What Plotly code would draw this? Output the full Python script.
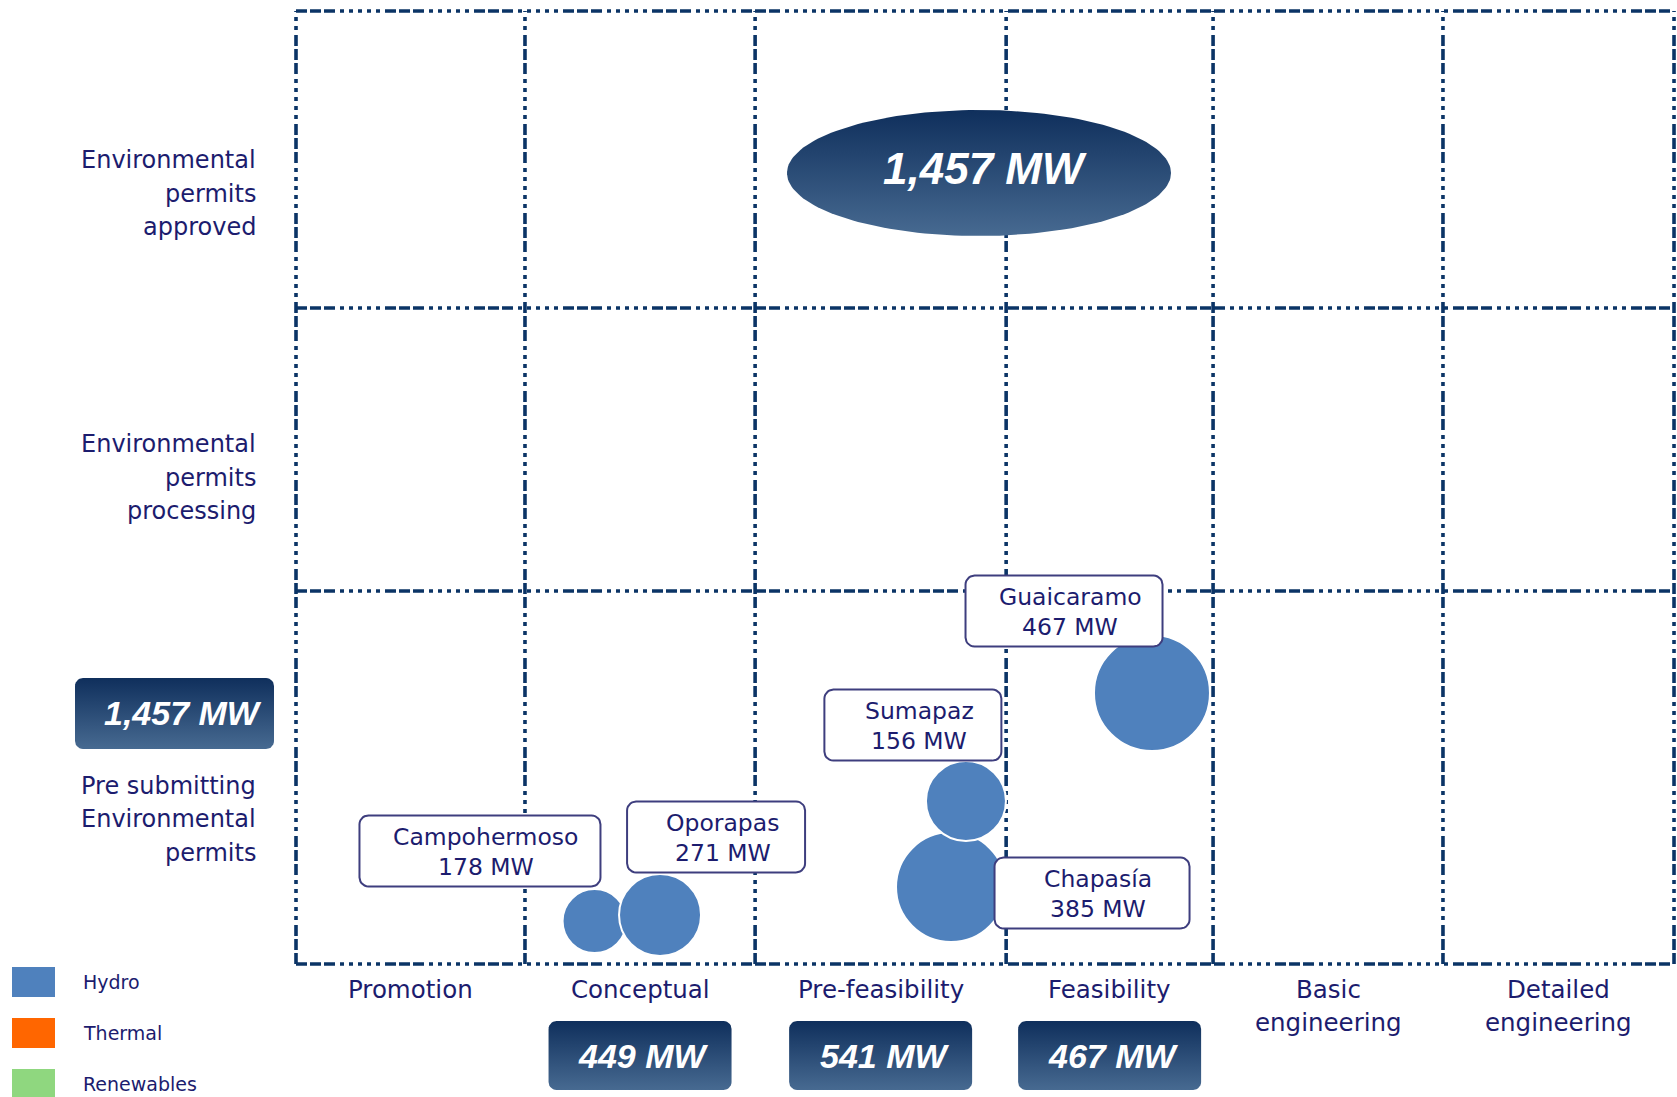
import numpy as np
import plotly.graph_objects as go

# ---------------- data ----------------
stages = ["Promotion", "Conceptual", "Pre-feasibility", "Feasibility",
          "Basic<br>engineering", "Detailed<br>engineering"]
permit_rows = ["Pre submitting<br>Environmental<br>permits",
               "Environmental<br>permits<br>processing",
               "Environmental<br>permits<br>approved"]
projects = ["Campohermoso", "Oporapas", "Chapasía", "Sumapaz", "Guaicaramo"]
project_mw = [178, 271, 385, 156, 467]
project_stage = ["Conceptual", "Conceptual", "Pre-feasibility", "Pre-feasibility", "Feasibility"]
project_permit = ["Pre submitting", "Pre submitting", "Pre submitting", "Pre submitting", "Pre submitting"]
technologies = ["Hydro", "Thermal", "Renewables"]
project_tech = ["Hydro", "Hydro", "Hydro", "Hydro", "Hydro"]

# ---------------- layout / style ----------------
W, H = 1677, 1097
PX_X, PX_Y = 229.67, 317.67          # pixels per axis unit
X0_PX, Y0_PX = 296, 964              # pixel position of axis origin
col_edges = [0, 0.997, 1.999, 3.092, 3.993, 4.994, 6.0]
row_edges = [0, 1.174, 2.065, 3.0]
bubble_x = [1.30, 1.585, 2.852, 2.917, 3.727]
bubble_y = [0.135, 0.154, 0.242, 0.513, 0.853]
bubble_d = [64, 82, 110, 80, 116]
label_x = [0.801, 1.829, 3.466, 2.686, 3.344]
label_y = [0.356, 0.400, 0.2235, 0.752, 1.111]
label_w = [241, 178, 195, 177, 197]
label_h = 71
row_label_y = [0.456, 1.530, 2.424]
tech_colors = {"Hydro": "#4f81bd", "Thermal": "#ff6600", "Renewables": "#8fd77f"}
NAVY_TXT = "#1c1c6e"
GRID = "#0b3466"
GRAD = [[0, "#476a91"], [1, "#0f2f5c"]]
FONT = "DejaVu Sans"
BOLDFONT = "Liberation Sans"

x_min = -X0_PX / PX_X
x_max = (W - X0_PX) / PX_X
y_min = (Y0_PX - H) / PX_Y
y_max = Y0_PX / PX_Y


def rrect(cx, cy, wpx, hpx, rpx=9, n=8):
    xs, ys = [], []
    hw, hh = wpx / 2, hpx / 2
    corners = [(hw - rpx, -hh + rpx, -90, 0), (hw - rpx, hh - rpx, 0, 90),
               (-hw + rpx, hh - rpx, 90, 180), (-hw + rpx, -hh + rpx, 180, 270)]
    for ccx, ccy, a0, a1 in corners:
        for a in np.linspace(np.radians(a0), np.radians(a1), n):
            xs.append(cx + (ccx + rpx * np.cos(a)) / PX_X)
            ys.append(cy + (ccy + rpx * np.sin(a)) / PX_Y)
    xs.append(xs[0]); ys.append(ys[0])
    return xs, ys


annotations = []


def text_lines(x, yc, text, size, spacing_px, xanchor="center", color=NAVY_TXT, family=FONT):
    lines = text.split("<br>")
    n = len(lines)
    for k, ln in enumerate(lines):
        off = ((n - 1) / 2 - k) * spacing_px / PX_Y
        annotations.append(dict(x=x, y=yc + off, xref="x", yref="y", xanchor=xanchor,
                                yanchor="middle", text=ln, showarrow=False,
                                font=dict(family=family, size=size, color=color)))


fig = go.Figure()

# grid lines
dash = "11px,3px,11px,3px,11px,5px,4px,5px,4px,5px,4px,5px,4px,5px,4px,5px"
shapes = []
for xe in col_edges:
    shapes.append(dict(type="line", xref="x", yref="y", x0=xe, x1=xe, y0=row_edges[0], y1=row_edges[-1],
                       line=dict(color=GRID, width=3.6, dash=dash), layer="below"))
for ye in row_edges:
    shapes.append(dict(type="line", xref="x", yref="y", x0=col_edges[0], x1=col_edges[-1], y0=ye, y1=ye,
                       line=dict(color=GRID, width=3.6, dash=dash), layer="below"))

# legend glyphs
leg_y_px = [982, 1033, 1084]
for t, yc in zip(technologies, leg_y_px):
    shapes.append(dict(type="rect", xref="paper", yref="paper", x0=12 / W, x1=55 / W,
                       y0=1 - (yc + 15) / H, y1=1 - (yc - 15) / H,
                       fillcolor=tech_colors[t], line=dict(width=0)))

# bubbles
fig.add_trace(go.Scatter(
    x=bubble_x, y=bubble_y, mode="markers",
    marker=dict(size=bubble_d, color=[tech_colors[t] for t in project_tech],
                line=dict(color="white", width=2), opacity=1),
    hoverinfo="skip", showlegend=False))

# label boxes
for name, mw, lx, ly, lw in zip(projects, project_mw, label_x, label_y, label_w):
    xs, ys = rrect(lx, ly, lw, label_h, rpx=9)
    fig.add_trace(go.Scatter(x=xs, y=ys, mode="lines", fill="toself", fillcolor="white",
                             line=dict(color="#3e3e7e", width=2), hoverinfo="skip", showlegend=False))
    text_lines(lx + 0.028, ly - 1 / PX_Y, f"{name}<br>{mw} MW", 23.5, 30)

# totals
total = sum(project_mw)
stage_tot = {s: sum(m for m, ps in zip(project_mw, project_stage) if ps == s) for s in stages}


def grad_box(xs, ys):
    fig.add_trace(go.Scatter(x=xs, y=ys, mode="lines", fill="toself",
                             fillgradient=dict(type="vertical", colorscale=GRAD),
                             line=dict(width=0), hoverinfo="skip", showlegend=False))


# big ellipse
ecx, ecy = (979 - X0_PX) / PX_X, (Y0_PX - 173) / PX_Y
t = np.linspace(0, 2 * np.pi, 160)
grad_box(list(ecx + 192 / PX_X * np.cos(t)), list(ecy + 63 / PX_Y * np.sin(t)))
annotations.append(dict(x=ecx + 0.027, y=ecy + 0.015, xref="x", yref="y",
                        text=f"<b><i>{total:,} MW</i></b>", showarrow=False,
                        font=dict(family=BOLDFONT, size=44, color="white")))

# left total box
lcx, lcy = (174.5 - X0_PX) / PX_X, (Y0_PX - 713.5) / PX_Y
xs, ys = rrect(lcx, lcy, 199, 71, rpx=8)
grad_box(xs, ys)
annotations.append(dict(x=lcx + 0.035, y=lcy + 0.003, xref="x", yref="y",
                        text=f"<b><i>{total:,} MW</i></b>", showarrow=False,
                        font=dict(family=BOLDFONT, size=34, color="white")))

# stage totals boxes and stage labels
for i, s in enumerate(stages):
    mid = (col_edges[i] + col_edges[i + 1]) / 2
    nlines = len(s.split("<br>"))
    first_y = (Y0_PX - 989) / PX_Y
    text_lines(mid, first_y - (nlines - 1) / 2 * 33 / PX_Y, s, 24.5, 33)
    if stage_tot.get(s, 0) > 0:
        by = (Y0_PX - 1055.5) / PX_Y
        xs, ys = rrect(mid, by, 183, 69, rpx=8)
        grad_box(xs, ys)
        annotations.append(dict(x=mid + 0.015, y=by + 0.0, xref="x", yref="y",
                                text=f"<b><i>{stage_tot[s]} MW</i></b>", showarrow=False,
                                font=dict(family=BOLDFONT, size=34, color="white")))

# row labels
for r, ry in zip(permit_rows, row_label_y):
    text_lines((258 - X0_PX) / PX_X, ry, r, 24, 33.5, xanchor="right")

# legend labels
for tname, yc in zip(technologies, leg_y_px):
    annotations.append(dict(x=81 / W, y=1 - yc / H, xref="paper", yref="paper", xanchor="left",
                            yanchor="middle", text=tname, showarrow=False,
                            font=dict(family=FONT, size=19, color=NAVY_TXT)))

fig.update_layout(
    width=W, height=H, margin=dict(l=0, r=0, t=0, b=0),
    paper_bgcolor="white", plot_bgcolor="white",
    xaxis=dict(range=[x_min, x_max], visible=False, domain=[0, 1]),
    yaxis=dict(range=[y_min, y_max], visible=False, domain=[0, 1]),
    shapes=shapes, annotations=annotations, showlegend=False,
)

fig.write_html("out.html", config={"displayModeBar": False},
               post_script="document.body.style.margin='0';")
